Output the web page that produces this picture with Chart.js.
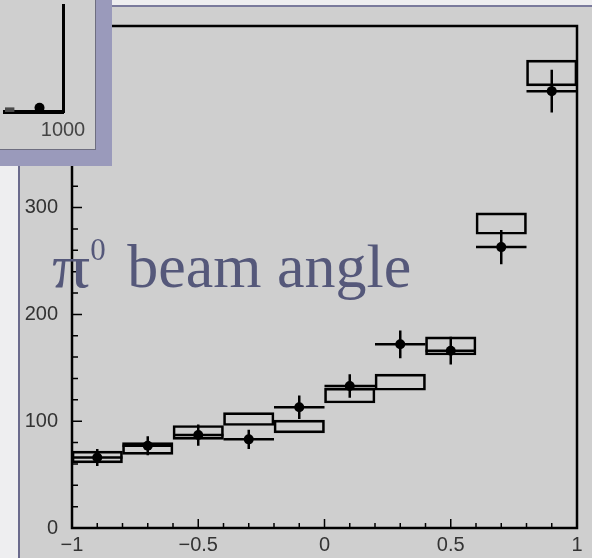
<!DOCTYPE html>
<html lang="en">
<head>
<meta charset="UTF-8">
<title>pi0 beam angle</title>
<script src="https://cdn.jsdelivr.net/npm/chart.js@4.4.0/dist/chart.umd.min.js"></script>
<style>
  body { margin: 0; width: 592px; height: 558px; overflow: hidden; position: relative;
         background: #eeeef0; }
  #panel { position: absolute; left: 18px; top: 5px; width: 620px; height: 600px;
           background: #cfcfcf; border-left: 2px solid #6a6a8c; border-top: 2px solid #7a7a9c; }
  #main { position: absolute; left: 0; top: 0; }
  #title { position: absolute; left: 52px; top: 235px; font-family: "Liberation Serif", serif;
           font-size: 62px; line-height: 1; color: #55587a; white-space: nowrap; }
  #title .pi { display: inline-block; transform: scaleX(1.22); transform-origin: left; margin-right: 7px; }
  #title sup { font-size: 31px; position: relative; top: -27px; vertical-align: baseline; margin-right: 6px; }
  #inset { position: absolute; left: 0; top: 0; width: 112px; height: 166px; background: #9a9abb; }
  #insetInner { position: absolute; left: 0; top: 0; width: 95px; height: 149px; background: #cfcfcf;
                border-right: 1px solid #6e6e80; border-bottom: 1px solid #6e6e80; }
  #insetChart { position: absolute; left: 0; top: 0; }
</style>
</head>
<body>
<div id="panel"></div>
<canvas id="main" width="592" height="558"></canvas>
<div id="title"><span class="pi">π</span><sup>0</sup> beam angle</div>
<div id="inset">
  <div id="insetInner"><canvas id="insetChart" width="95" height="149"></canvas></div>
</div>

<script>
// bins of cos(theta), width 0.2
const binCenters = [-0.9, -0.7, -0.5, -0.3, -0.1, 0.1, 0.3, 0.5, 0.7, 0.9];
const binHalfWidth = 0.1;
// measured points
const dataValues = [66, 77, 87, 83, 113, 133, 172, 166, 263, 409];
const dataErrors = [8, 9, 10, 9, 11, 11, 13, 13, 16, 20];
// simulation boxes (low / high edge)
const mcLow  = [61, 69, 83, 96, 89, 117, 129, 162, 275, 414];
const mcHigh = [72, 80, 96, 108, 101, 131, 144, 179, 295, 438];
// axis ticks
const xTickValues = [-1, -0.5, 0, 0.5, 1];
const yTickValues = [0, 100, 200, 300, 400];

// bit of the previous plot that sticks out in the corner
const insetLineX = [580, 648];
const insetLineY = [1.5, 1.5];
const insetPointX = [830];
const insetPointY = [4];
const insetTickValues = [1000];

const fmt = v => (v < 0 ? '\u2212' + String(-v) : String(v));

const tickFont = { family: 'Liberation Sans', size: 20 };

const frameTicks = {
  id: 'frameTicks',
  afterDatasetsDraw(chart) {
    const c = chart.ctx, a = chart.chartArea;
    const xs = chart.scales.x, ys = chart.scales.y;
    c.save();
    c.strokeStyle = '#000';
    c.lineCap = 'butt';
    // error bars + bin width bars
    c.lineWidth = 2.5;
    binCenters.forEach((x, i) => {
      const px = xs.getPixelForValue(x);
      const py = ys.getPixelForValue(dataValues[i]);
      c.beginPath();
      c.moveTo(px, ys.getPixelForValue(dataValues[i] - dataErrors[i]));
      c.lineTo(px, ys.getPixelForValue(dataValues[i] + dataErrors[i]));
      c.moveTo(xs.getPixelForValue(x - binHalfWidth), py);
      c.lineTo(xs.getPixelForValue(x + binHalfWidth), py);
      c.stroke();
    });
    // frame
    c.lineWidth = 2.5;
    c.strokeRect(a.left, a.top, a.right - a.left, a.bottom - a.top);
    // inner ticks
    c.lineWidth = 1.5;
    c.beginPath();
    for (let i = -10; i <= 10; i++) {
      const px = xs.getPixelForValue(i / 10);
      c.moveTo(px, a.bottom);
      c.lineTo(px, a.bottom - (i % 5 === 0 ? 9 : 5));
    }
    for (let v = 0; v <= ys.max; v += 20) {
      const py = ys.getPixelForValue(v);
      c.moveTo(a.left, py);
      c.lineTo(a.left + (v % 100 === 0 ? 10 : 6), py);
    }
    c.stroke();
    c.restore();
  }
};

new Chart(document.getElementById('main'), {
  type: 'bar',
  data: {
    datasets: [
      {
        type: 'scatter',
        data: binCenters.map((x, i) => ({ x: x, y: dataValues[i] })),
        pointRadius: 5,
        pointBackgroundColor: '#000',
        pointBorderWidth: 0,
        order: 0
      },
      {
        type: 'bar',
        data: binCenters.map((x, i) => ({ x: x, y: [mcLow[i], mcHigh[i]] })),
        backgroundColor: 'rgba(0,0,0,0)',
        borderColor: '#000',
        borderWidth: 2,
        borderSkipped: false,
        barPercentage: 1,
        categoryPercentage: 1,
        order: 1
      }
    ]
  },
  options: {
    responsive: false,
    animation: false,
    layout: { padding: { top: 22, right: 15, left: 0, bottom: 0 } },
    plugins: { legend: { display: false }, tooltip: { enabled: false } },
    scales: {
      x: {
        type: 'linear', min: -1, max: 1, offset: false,
        grid: { display: false, drawTicks: false }, border: { display: false },
        ticks: { font: tickFont, color: '#333', padding: 5, maxRotation: 0, callback: v => fmt(v) },
        afterBuildTicks: s => { s.ticks = xTickValues.map(v => ({ value: v })); },
        afterFit: s => { s.height = 30; }
      },
      y: {
        min: 0, max: 470,
        grid: { display: false, drawTicks: false }, border: { display: false },
        ticks: { font: tickFont, color: '#333', padding: 14, callback: v => fmt(v) },
        afterBuildTicks: s => { s.ticks = yTickValues.map(v => ({ value: v })); },
        afterFit: s => { s.width = 72; }
      }
    }
  },
  plugins: [frameTicks]
});

new Chart(document.getElementById('insetChart'), {
  type: 'scatter',
  data: {
    datasets: [
      {
        data: insetLineX.map((x, i) => ({ x: x, y: insetLineY[i] })),
        showLine: true, borderColor: '#4a4a4a', borderWidth: 6, pointRadius: 0
      },
      {
        data: insetPointX.map((x, i) => ({ x: x, y: insetPointY[i] })),
        pointRadius: 5, pointBackgroundColor: '#000', pointBorderWidth: 0
      }
    ]
  },
  options: {
    responsive: false,
    animation: false,
    layout: { padding: { top: 0, right: 32, left: 0, bottom: 0 } },
    plugins: { legend: { display: false }, tooltip: { enabled: false } },
    scales: {
      x: {
        type: 'linear', min: 580, max: 1000,
        grid: { display: false, drawTicks: false }, border: { color: '#000', width: 4 },
        ticks: { font: tickFont, color: '#444', padding: 6, callback: v => String(v) },
        afterBuildTicks: s => { s.ticks = insetTickValues.map(v => ({ value: v })); },
        afterFit: s => { s.height = 37; }
      },
      y: {
        position: 'right', min: 0, max: 100,
        grid: { display: false, drawTicks: false }, border: { color: '#000', width: 3 },
        ticks: { display: false },
        afterFit: s => { s.width = 0; }
      }
    }
  }
});
</script>
</body>
</html>
